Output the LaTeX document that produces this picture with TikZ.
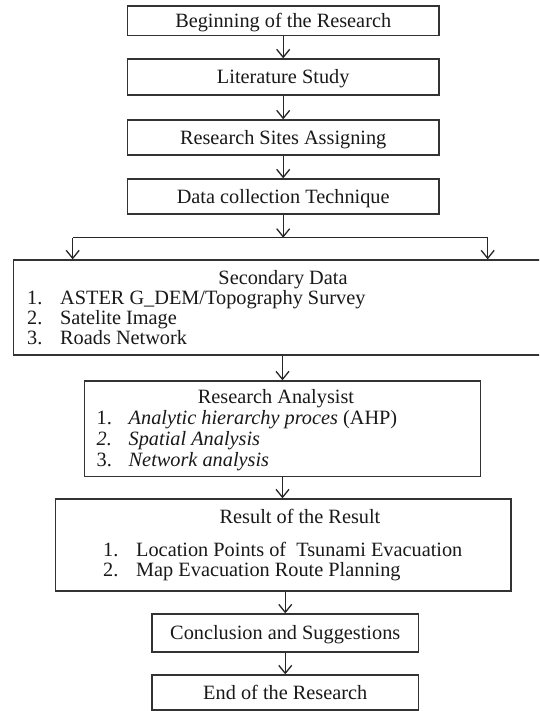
\documentclass[tikz,border=0pt]{standalone}
\usepackage{fontspec}
\setmainfont{Liberation Serif}
\usetikzlibrary{arrows.meta}

\begin{document}
\begin{tikzpicture}[x=1pt,y=-1pt,
  every node/.style={font=\fontsize{20.3pt}{20pt}\selectfont, text=black!90},
  stepbox/.style={draw=black!80, line width=1.3pt, rectangle, inner sep=0pt,
    text height=13.4pt, text depth=0pt},
  listbox/.style={draw=black!80, line width=1.3pt, rectangle, inner sep=0pt},
  title/.style={inner sep=0pt, anchor=base},
  item/.style={inner sep=0pt, anchor=base west},
  arr/.style={draw=black!85, line width=1.3pt, -{Straight Barb[length=8pt,width=13pt,line width=1.3pt]}},
  link/.style={draw=black!85, line width=1.3pt}]

\useasboundingbox (0,0) rectangle (539,711);
\fill[white] (0,0) rectangle (539,711);
\clip (0,0) rectangle (539,711);

% main steps
\node[stepbox, minimum width=311.5pt, minimum height=29.7pt] (b1) at (283.2,21) {Beginning of the Research};
\node[stepbox, minimum width=311.5pt, minimum height=36pt] (b2) at (283.2,77) {Literature Study};
\node[stepbox, minimum width=311.5pt, minimum height=35pt] (b3) at (283.2,137.5) {Research Sites Assigning};
\node[stepbox, minimum width=311.5pt, minimum height=35pt] (b4) at (283.2,196.5) {Data collection Technique};

% secondary data block
\node[listbox, minimum width=531.5pt, minimum height=95pt] (sec) at (279.25,307.5) {};
\node[title] (secT) at (283,284.3) {Secondary Data};
\node[item] (sec1) at (27,304.3) {\makebox[33pt][l]{1.}ASTER G\_DEM/Topography Survey};
\node[item] (sec2) at (27,324.3) {\makebox[33pt][l]{2.}Satelite Image};
\node[item] (sec3) at (27,344.3) {\makebox[33pt][l]{3.}Roads Network};

% analysis block
\node[listbox, minimum width=396pt, minimum height=95.5pt] (ra) at (282.5,428.75) {};
\node[title] (raT) at (276,403) {Research Analysist};
\node[item] (ra1) at (96.5,424.2) {\makebox[32pt][l]{1.}\textit{Analytic hierarchy proces} (AHP)};
\node[item] (ra2) at (96.5,445.3) {\makebox[32pt][l]{\textit{2.}}\textit{Spatial Analysis}};
\node[item] (ra3) at (96.5,466.4) {\makebox[32pt][l]{3.}\textit{Network analysis}};

% result block
\node[listbox, minimum width=455.5pt, minimum height=92pt] (res) at (283.25,545) {};
\node[title] (resT) at (300,523.3) {Result of the Result};
\node[item] (res1) at (103,556) {\makebox[33pt][l]{1.}Location Points of~ Tsunami Evacuation};
\node[item] (res2) at (103,576) {\makebox[33pt][l]{2.}Map Evacuation Route Planning};

% closing steps
\node[stepbox, minimum width=266.5pt, minimum height=38pt] (concl) at (285.25,633) {Conclusion and Suggestions};
\node[stepbox, minimum width=266.5pt, minimum height=35pt] (fin) at (285.25,692.5) {End of the Research};

% branch points
\coordinate (j) at (283.2,237.7);
\coordinate (jl) at (72.7,237.7);
\coordinate (jr) at (487.7,237.7);

% connectors
\draw[arr] (b1.south) -- (b2.north);
\draw[arr] (b2.south) -- (b3.north);
\draw[arr] (b3.south) -- (b4.north);
\draw[arr] (b4.south) -- (j);
\draw[link] (jl) -- (jr);
\draw[arr] (jl) -- (jl |- sec.north);
\draw[arr] (jr) -- (jr |- sec.north);
\draw[arr] (ra.north |- sec.south) -- (ra.north);
\draw[arr] (ra.south) -- (ra.south |- res.north);
\draw[arr] (concl.north |- res.south) -- (concl.north);
\draw[arr] (concl.south) -- (fin.north);
\end{tikzpicture}
\end{document}
